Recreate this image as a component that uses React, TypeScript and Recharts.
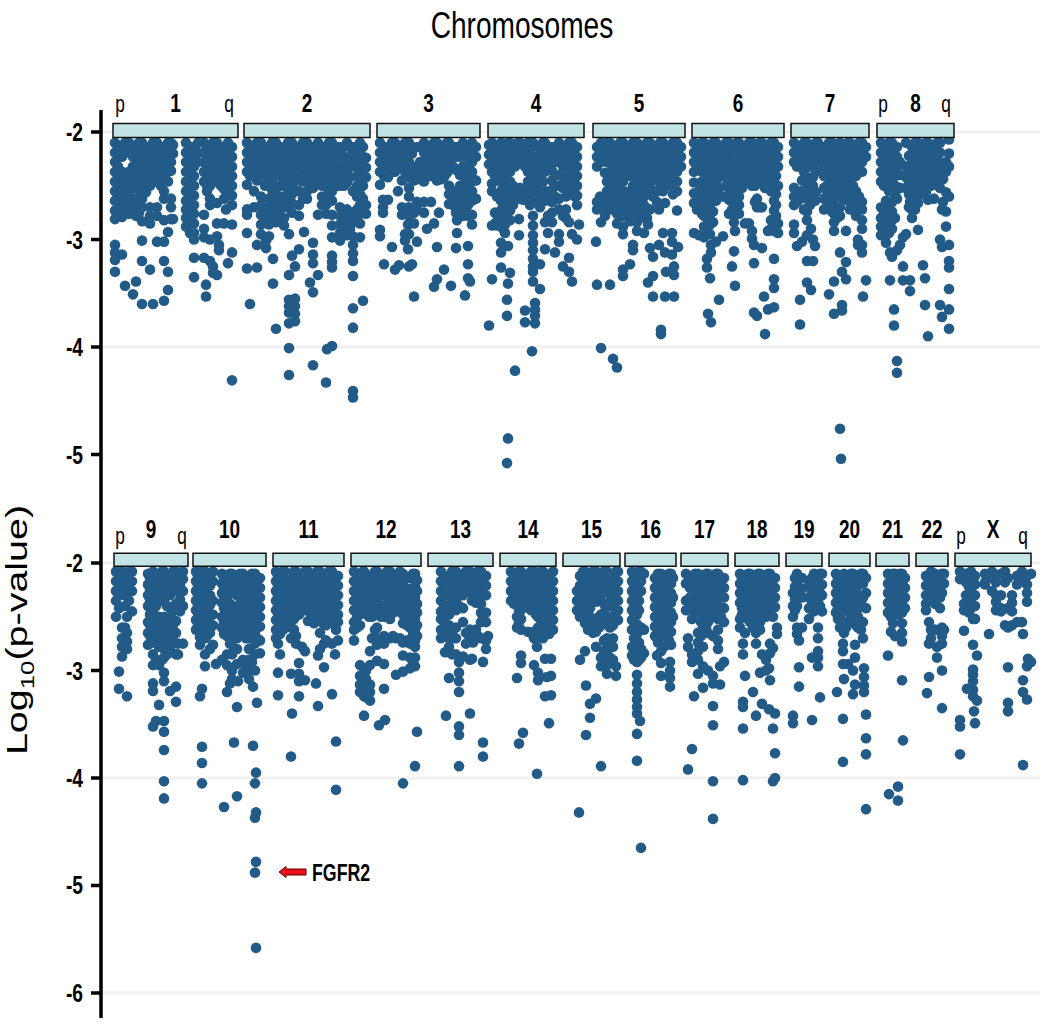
import { ScatterChart, Scatter, XAxis, YAxis, ReferenceArea, ReferenceLine, ReferenceDot } from 'recharts'

// every row below is one genome position followed by the -log10(p) values at that position
const chr1 = [
  [115, 2.1, 2.19, 2.28, 2.37, 2.46, 2.55, 2.64, 2.73, 2.81, 3.05, 3.12, 3.19, 3.3],
  [118, 2.14, 2.23, 2.32, 2.41, 2.5, 2.6, 2.7],
  [122, 2.14, 2.23, 2.37, 2.46, 2.55, 2.64, 2.73, 2.79, 3.14],
  [125, 2.1, 2.18, 2.42, 2.5, 2.6, 2.7, 3.43],
  [129, 2.1, 2.19, 2.37, 2.46, 2.58, 2.67, 2.76],
  [133, 2.14, 2.23, 2.32, 2.42, 2.52, 2.75, 3.51],
  [136, 2.14, 2.23, 2.32, 2.41, 2.5, 2.62, 2.7, 2.78, 3.39],
  [139, 2.1, 2.18, 2.27, 2.36, 2.45, 2.54, 2.75],
  [142, 2.1, 2.19, 2.28, 2.37, 2.46, 2.62, 2.7, 2.83, 3.01, 3.2, 3.6],
  [146, 2.14, 2.23, 2.32, 2.41, 2.5, 2.56],
  [150, 2.14, 2.23, 2.32, 2.41, 2.5, 2.7, 2.78, 2.85, 3.28],
  [153, 2.1, 2.19, 2.28, 2.37, 2.46, 3.6],
  [157, 2.1, 2.19, 2.28, 2.37, 2.46, 2.7, 2.78, 3.02],
  [161, 2.14, 2.23, 2.32, 2.41, 2.5],
  [164, 2.14, 2.23, 2.32, 2.41, 2.55, 2.62, 2.82, 3.02, 3.2, 3.57],
  [168, 2.1, 2.19, 2.28, 2.37, 2.46, 2.93, 3.3, 3.47],
  [171, 2.1, 2.19, 2.28, 2.36, 2.62, 2.7, 2.81],
  [173, 2.12, 2.2, 2.81],
  [186, 2.1, 2.19, 2.28, 2.37, 2.46, 2.55, 2.64, 2.72, 2.8, 2.88],
  [190, 2.14, 2.23, 2.32, 2.41, 2.5, 2.59, 2.68, 2.76, 2.85, 2.94],
  [194, 2.14, 2.23, 2.32, 2.41, 2.5, 2.59, 2.68, 2.76, 2.85, 2.94, 3.0, 3.17, 3.35],
  [198, 2.1, 2.19, 2.28],
  [204, 2.1, 2.19, 2.28, 2.37, 2.46, 2.77, 2.9, 2.98, 3.17],
  [206, 3.42, 3.53],
  [207, 2.14, 2.23, 2.32, 2.41, 2.5, 2.55],
  [210, 2.14, 2.23, 2.32, 2.41, 2.5, 2.62, 2.68, 3.0, 3.2],
  [213, 2.1, 2.19, 2.28, 2.37, 2.46, 3.25, 3.31],
  [217, 2.1, 2.19, 2.28, 2.37, 2.46, 2.66, 2.85, 2.97, 3.33],
  [219, 3.05, 3.1],
  [221, 2.14, 2.23, 2.32, 2.41, 2.5],
  [224, 2.14, 2.23, 2.32, 2.41, 2.53, 2.62, 2.85],
  [226, 2.72],
  [228, 2.1, 2.19, 2.28, 2.37, 2.46, 2.55, 3.22],
  [232, 2.14, 2.23, 2.32, 2.41, 2.5, 2.59, 2.68, 2.86, 3.12, 4.31],
]
const chr2 = [
  [247, 2.1, 2.19, 2.28, 2.37, 2.49, 2.77, 2.72, 2.94, 3.27],
  [250, 2.14, 2.23, 2.32, 2.41, 3.6],
  [254, 2.14, 2.23, 2.32, 2.41, 2.55, 2.7],
  [257, 2.1, 2.19, 2.28, 2.37, 2.45, 3.05, 3.26],
  [261, 2.1, 2.19, 2.28, 2.37, 2.6, 2.68, 2.77, 2.86, 2.95],
  [265, 2.14, 2.23, 2.32, 2.41, 2.5, 2.72, 2.82],
  [266, 3.08, 3.01],
  [269, 2.14, 2.23, 2.32, 2.41, 2.62, 2.7, 2.78, 2.86, 2.97],
  [272, 2.1, 2.19, 2.28, 2.37, 2.46, 2.54, 2.66, 2.75],
  [273, 3.18, 3.41],
  [276, 2.1, 2.19, 2.28, 2.37, 2.58, 2.66, 2.75, 2.84, 3.83],
  [280, 2.14, 2.23, 2.32, 2.41, 2.5, 2.6, 2.72, 2.82],
  [284, 2.14, 2.23, 2.32, 2.41, 2.5, 2.62, 2.7, 2.8, 2.87],
  [288, 2.1, 2.19, 2.28, 2.37, 2.46, 2.56, 2.7],
  [289, 2.95, 3.33, 3.56, 3.62, 3.68, 3.78, 4.01, 4.26],
  [292, 2.1, 2.19, 2.28, 2.37, 2.5, 2.58, 2.66, 2.75, 3.15],
  [295, 2.14, 2.23, 2.32, 2.41, 3.25, 3.55, 3.62, 3.69, 3.76],
  [299, 2.14, 2.23, 2.32, 2.45, 2.55, 2.68, 2.78, 3.09],
  [303, 2.1, 2.19, 2.28, 2.37, 2.46, 2.62],
  [304, 2.93],
  [307, 2.1, 2.19, 2.28, 2.37, 2.55, 2.62],
  [310, 2.14, 2.23, 2.32, 2.41, 2.5, 3.4],
  [313, 2.14, 2.23, 2.32, 2.45, 2.52, 3.03, 3.14, 3.22, 3.49, 4.17],
  [318, 2.1, 2.19, 2.28, 2.37, 2.46, 2.77, 3.33],
  [322, 2.14, 2.23, 2.32, 2.41, 2.5, 2.6, 2.68],
  [326, 2.14, 2.23, 2.32, 2.41, 2.5, 2.6, 2.68, 2.76, 4.33],
  [327, 4.02],
  [329, 2.1, 2.19, 2.28, 2.37, 2.46, 2.55, 2.64],
  [332, 2.1, 2.19, 2.28, 2.37, 2.46, 2.55, 2.64, 2.77, 2.87, 2.98, 3.15, 3.21, 3.26, 3.99],
  [336, 2.14, 2.23, 2.32, 2.41, 2.5],
  [340, 2.14, 2.23, 2.32, 2.41, 2.5, 2.7, 2.78, 2.86, 2.94, 3.01],
  [344, 2.14, 2.23, 2.32, 2.41, 2.5, 2.78, 2.88],
  [347, 2.1, 2.28, 2.37, 2.47, 2.72, 2.8, 2.88, 2.96],
  [350, 2.14, 2.23, 2.32, 2.42, 2.8, 2.9],
  [353, 2.14, 2.23, 2.32, 2.55, 2.75, 2.84, 2.97, 3.05, 3.13, 3.2, 3.34, 3.64, 3.82, 4.41, 4.47],
  [357, 2.14, 2.23, 2.32, 2.41, 2.5, 2.6, 2.72, 2.8],
  [360, 2.1, 2.19, 2.28, 2.4, 2.48, 2.58, 2.68, 2.76, 2.85, 2.98],
  [363, 2.14, 2.23, 2.32, 2.5, 2.62, 3.57],
  [366, 2.24, 2.33, 2.42, 2.68, 2.76],
]
const chr3 = [
  [380, 2.1, 2.19, 2.28, 2.37, 2.49, 2.91, 2.97],
  [383, 2.63, 2.7, 2.75],
  [384, 2.14, 2.23, 2.32, 2.41, 3.23],
  [388, 2.14, 2.23, 2.32, 2.42, 2.63],
  [392, 2.1, 2.19, 2.28, 2.37, 3.07],
  [395, 2.1, 2.19, 2.28, 2.37, 3.28],
  [398, 2.14, 2.23, 2.32, 2.55],
  [399, 3.24],
  [402, 2.14, 2.23, 2.32, 2.45, 2.7, 2.77],
  [405, 2.1, 2.19, 2.28, 2.37, 2.95, 3.01],
  [408, 2.14, 2.23, 2.32, 2.42, 3.09, 2.86],
  [409, 2.1, 2.28, 2.37, 2.52, 2.6, 2.7, 2.78, 2.95, 3.25],
  [412, 2.2, 2.32, 2.42, 3.23],
  [414, 2.33, 2.45, 2.75, 2.85, 3.53],
  [417, 2.14, 2.4, 2.65, 2.72, 3.02],
  [420, 2.28, 2.36, 2.44],
  [424, 2.1, 2.19, 2.3, 2.46, 2.65, 2.75],
  [427, 2.14, 2.23, 2.38, 2.9],
  [431, 2.14, 2.23, 2.32, 2.41, 2.65],
  [434, 2.1, 2.19, 2.28, 2.38, 2.85, 3.44],
  [437, 2.1, 2.19, 2.3, 2.45, 3.07, 3.37],
  [439, 2.75],
  [441, 2.14, 2.23, 2.36, 2.44],
  [444, 2.14, 2.23, 2.32, 2.42, 3.28],
  [447, 2.1, 2.19, 2.28, 2.38],
  [449, 2.1, 2.19, 2.28, 2.5, 2.58, 2.67],
  [451, 3.43],
  [453, 2.14, 2.23, 2.32, 2.6, 2.68],
  [456, 2.14, 2.23, 2.35, 2.55, 2.65, 2.75, 3.08],
  [457, 2.94, 2.82],
  [460, 2.14, 2.23, 2.4, 2.5, 2.6, 2.7],
  [463, 2.1, 2.19, 2.32, 2.41, 2.5, 2.58, 2.68, 2.78],
  [465, 3.52],
  [466, 2.14, 2.23, 2.36, 2.46, 2.55, 2.64, 2.74],
  [468, 2.14, 2.23, 2.32, 2.41, 2.5, 2.59, 2.68, 2.78, 3.06, 3.23, 3.36],
  [470, 3.39],
  [472, 2.1, 2.19, 2.28, 2.37, 2.46, 2.55, 2.64, 2.86, 2.77],
  [476, 2.14, 2.23, 2.45, 2.62],
]
const chr4 = [
  [489, 2.12, 2.21, 2.3, 3.8],
  [492, 2.1, 2.19, 2.28, 2.37, 2.48, 2.55, 2.87, 3.37],
  [495, 2.14, 2.23, 2.32, 2.41, 2.75, 2.85],
  [497, 2.14, 2.23, 2.32, 2.41, 2.6, 2.77, 2.87],
  [501, 2.1, 2.19, 2.28, 2.37, 2.46, 2.55, 2.64, 2.73, 2.82, 3.03, 3.12, 3.26],
  [503, 2.14, 2.23, 2.32, 2.41, 2.5, 2.6, 2.7, 2.8, 2.9],
  [505, 2.14, 2.23, 2.32, 2.41, 2.5, 2.59, 2.68, 2.77, 2.86, 2.94],
  [507, 3.56, 3.71, 5.08],
  [508, 2.1, 2.19, 2.28, 2.37, 2.46, 2.55, 2.64, 2.73, 3.06, 3.41, 4.85],
  [510, 2.1, 2.19, 2.28, 2.37, 2.46, 2.55, 2.64, 2.73, 2.82, 3.31],
  [513, 2.14, 2.23, 2.32, 2.5, 2.58, 2.68],
  [515, 2.14, 2.23, 2.32, 2.55, 2.63, 4.22],
  [518, 2.1, 2.19, 2.28, 2.55, 2.62],
  [519, 2.81, 2.96],
  [520, 2.1, 2.19, 2.28, 2.52, 2.6],
  [523, 2.14, 2.24, 2.55, 2.63],
  [525, 2.14, 2.23, 2.32, 2.58, 3.66, 3.77],
  [528, 2.1, 2.19, 2.28, 2.37, 2.46, 2.55, 2.64],
  [530, 2.1, 2.19, 2.28, 2.37, 2.52, 2.6, 2.68],
  [533, 2.1, 2.78, 2.87, 2.96, 3.03, 3.1, 3.18, 3.25, 3.3, 3.39],
  [535, 2.23, 2.32, 2.41, 2.5, 3.59, 3.65, 3.71, 3.78],
  [532, 4.04],
  [538, 2.14, 2.23, 2.4, 2.48, 2.56, 2.65],
  [540, 2.14, 2.23, 2.32, 2.55, 2.63, 2.7, 3.23, 3.46],
  [543, 2.1, 2.19, 2.28, 2.37, 2.46, 2.6],
  [545, 2.1, 2.19, 2.28, 2.37, 2.55, 2.64, 2.84, 3.09],
  [548, 2.14, 2.23, 2.32, 2.6, 2.78, 2.94],
  [552, 2.14, 2.36, 2.45, 2.54, 2.65, 2.75, 2.84],
  [555, 2.2, 2.28, 2.5, 2.6, 3.12],
  [559, 2.1, 2.19, 2.28, 2.4, 2.5, 2.62, 2.72, 2.95, 3.02],
  [563, 2.14, 2.23, 2.32, 2.42, 2.52, 2.78, 3.25],
  [566, 2.14, 2.23, 2.32, 2.41, 2.5, 2.6, 2.72, 2.8],
  [569, 2.1, 2.19, 2.28, 2.37, 2.46, 2.84, 3.17, 3.3],
  [572, 2.1, 2.19, 2.28, 2.37, 2.46, 2.55, 2.95, 3.39],
  [575, 2.14, 2.23, 2.32, 2.41, 2.5, 2.6],
  [577, 2.14, 2.23, 2.32, 2.41, 2.5, 2.59, 2.68, 3.0],
  [579, 2.86],
]
const chr5 = [
  [596, 3.02],
  [597, 2.14, 2.23, 2.32, 2.65, 2.72, 3.42],
  [600, 2.19, 2.6, 2.68],
  [601, 2.1, 2.28, 2.62, 2.7, 2.84, 4.01],
  [605, 2.14, 2.2, 2.38, 2.62, 2.7, 2.78],
  [607, 2.1, 2.28, 2.46, 2.55, 2.68],
  [610, 2.1, 2.19, 2.28, 2.37, 2.46, 2.55, 2.64, 2.72, 3.42],
  [613, 2.14, 2.23, 2.32, 2.41, 2.5, 2.6, 2.7, 4.11],
  [617, 2.14, 2.23, 2.32, 2.41, 2.5, 2.59, 2.68, 2.76, 2.85, 4.19],
  [620, 2.1, 2.19, 2.28, 2.37, 2.46, 2.55, 2.65, 2.75],
  [623, 2.1, 2.19, 2.28, 2.37, 2.46, 2.55, 2.65, 2.78, 2.88, 2.95, 3.28, 3.34],
  [626, 2.14, 2.23, 2.32, 2.6, 2.7],
  [630, 2.14, 2.23, 2.32, 2.41, 2.55, 2.65, 2.75, 2.83, 3.23],
  [633, 2.1, 2.19, 2.28, 2.37, 2.5, 2.6, 2.7, 3.05, 3.1],
  [637, 2.1, 2.19, 2.28, 2.37, 2.46, 2.55, 2.65, 2.76, 2.84, 2.92],
  [640, 2.14, 2.23, 2.32, 2.41, 2.5, 2.6, 2.7, 2.8],
  [644, 2.14, 2.23, 2.32, 2.42, 2.5, 2.6, 2.68, 2.76, 2.94],
  [647, 2.1, 2.19, 2.28, 2.37, 2.46, 2.55, 2.8],
  [648, 3.4, 2.86],
  [650, 2.1, 2.19, 2.28, 2.37, 2.52, 2.72, 3.08],
  [653, 2.14, 2.23, 2.32, 2.45, 2.6, 3.16, 3.34, 3.53],
  [657, 2.14, 2.23, 2.32, 2.42, 2.55, 2.65],
  [659, 3.05, 2.72],
  [660, 2.1, 2.19, 2.28, 2.38, 2.47],
  [661, 3.84, 3.88],
  [663, 2.1, 2.19, 2.28, 2.37, 2.46, 2.55, 2.94],
  [665, 3.12, 3.53, 2.66],
  [666, 2.14, 2.23, 2.32, 2.42, 3.3],
  [670, 2.14, 2.23, 2.32, 2.41, 2.5],
  [672, 2.94, 3.14, 3.02],
  [673, 2.1, 2.19, 2.28, 2.37, 2.46, 2.58],
  [674, 3.33, 3.53, 3.25],
  [677, 2.1, 2.19, 2.28, 2.37, 2.46, 2.55, 2.73],
  [678, 3.07],
  [681, 2.14, 2.23, 2.32],
]
const chr6 = [
  [694, 2.1, 2.19, 2.28, 2.37, 2.47, 2.57, 2.66, 2.94],
  [697, 2.14, 2.23, 2.32, 2.6, 2.72],
  [699, 2.14, 2.23, 2.32, 2.55, 2.7, 2.96],
  [702, 2.1, 2.19, 2.28, 2.37, 2.46, 2.56, 2.66, 2.76],
  [704, 2.1, 2.19, 2.28, 2.37, 2.5, 2.6, 2.7, 2.78, 2.88, 2.98],
  [707, 2.14, 2.23, 2.32, 2.41, 2.5, 2.6, 2.7, 2.8, 2.9, 3.26, 3.18],
  [708, 3.69],
  [710, 2.14, 2.23, 2.32, 2.41, 2.5, 2.59, 2.68, 2.77, 2.86, 2.95, 3.36],
  [711, 3.05, 3.12, 3.77],
  [713, 2.1, 2.19, 2.28, 2.37, 2.46, 2.55, 2.64, 2.74, 2.84],
  [716, 2.1, 2.19, 2.28, 2.37, 2.46, 2.55, 2.64, 3.02],
  [719, 2.14, 2.23, 2.32, 2.42, 2.52, 3.56],
  [723, 2.14, 2.23, 2.32, 2.41, 2.6, 2.97],
  [726, 2.1, 2.28, 2.37, 2.5, 2.6],
  [729, 2.1, 2.19, 2.28, 2.43, 2.52, 2.63, 2.76],
  [732, 2.2, 2.32, 2.42, 2.5, 2.72, 3.25],
  [734, 2.14, 2.4, 2.6, 2.68, 2.76, 2.84, 3.11],
  [735, 2.92, 3.43],
  [737, 2.1, 2.28, 2.37, 2.46, 2.55, 2.64],
  [739, 2.1, 2.19, 2.3, 2.42, 2.5, 2.6, 2.68, 2.76],
  [742, 2.14, 2.23, 2.36, 2.45, 2.52],
  [745, 2.14, 2.23, 2.32, 2.41, 2.85],
  [749, 2.1, 2.19, 2.28, 2.37, 2.46, 2.85],
  [752, 2.1, 2.19, 2.28, 2.37, 2.46, 2.5, 2.92, 2.99],
  [754, 3.05, 3.22, 3.68],
  [755, 2.14, 2.23, 2.32, 2.41, 2.5, 2.65],
  [757, 2.14, 2.23, 2.32, 2.41, 2.62, 2.7, 3.71],
  [760, 2.1, 2.19, 2.28, 2.37, 2.46, 2.7],
  [762, 2.1, 2.19, 2.28, 2.37, 2.46, 2.7, 3.08],
  [764, 3.53],
  [765, 2.14, 2.23, 2.32, 2.41, 2.52, 3.88],
  [768, 2.14, 2.23, 2.32, 2.41, 2.5, 2.92, 3.65],
  [771, 2.1, 2.19, 2.28, 2.37, 2.46, 2.55, 2.82, 2.9],
  [774, 2.1, 2.19, 2.28, 2.37, 2.46, 2.55, 2.64, 2.73, 2.82, 2.92, 3.18, 3.37, 3.45, 3.63],
  [776, 2.14, 2.23, 2.32, 2.41, 2.5, 2.58, 2.68, 2.78, 2.88],
  [778, 2.14, 2.23, 2.32, 2.5, 2.85, 2.94],
]
const chr7 = [
  [794, 2.1, 2.19, 2.28, 2.52, 2.6, 2.68, 2.86, 2.94],
  [797, 2.14, 2.23, 2.32, 2.55, 2.65, 3.06],
  [800, 2.14, 2.23, 2.32, 2.62, 3.56, 3.79],
  [802, 2.45, 2.55, 3.02],
  [804, 2.1, 2.19, 2.28, 2.37, 2.58, 2.72],
  [807, 2.1, 2.19, 2.28, 2.42, 2.5, 2.62, 2.74, 2.82, 2.96, 3.2, 3.4],
  [810, 2.14, 2.23, 2.32, 2.55, 2.68],
  [811, 2.48, 2.58, 2.9, 3.47],
  [813, 2.14, 2.23, 2.32, 2.42, 2.5, 3.2, 3.0],
  [815, 3.06, 2.64],
  [816, 2.1, 2.19, 2.28, 2.37, 2.56],
  [818, 2.1, 2.19, 2.28],
  [827, 2.14, 2.23, 2.32, 2.41, 2.5, 2.6, 2.7],
  [824, 2.14, 2.23, 2.32, 2.41, 2.52, 2.62, 2.72],
  [829, 2.1, 2.19, 2.28, 2.4, 2.5, 2.58, 2.68, 3.51],
  [832, 2.1, 2.19, 2.28, 2.37, 2.46, 2.55, 2.64, 2.74],
  [834, 2.14, 2.23, 2.32, 2.41, 2.5, 2.59, 2.68, 2.76, 2.84, 2.92, 3.39, 3.69],
  [837, 2.14, 2.23, 2.32, 2.41, 2.5, 2.6, 2.8],
  [840, 2.1, 2.19, 2.28, 2.37, 2.46, 2.55, 2.7, 2.78, 3.12, 4.76],
  [842, 3.3, 3.61, 3.66],
  [841, 5.04],
  [843, 2.14, 2.23, 2.32, 2.5, 2.62],
  [846, 2.14, 2.23, 2.43, 2.5, 2.62, 2.92, 3.21, 3.37],
  [848, 2.1, 2.19, 2.28, 2.37, 2.55, 2.64],
  [850, 2.1, 2.19, 2.28, 2.37, 2.46, 2.55, 2.72],
  [853, 2.14, 2.23, 2.32, 2.41, 2.5, 2.62, 2.7],
  [856, 2.14, 2.23, 2.32, 2.41, 2.55, 2.62, 2.7, 2.78],
  [858, 3.0, 3.05],
  [859, 2.1, 2.19, 2.28, 2.37, 2.6, 2.7],
  [862, 2.1, 2.19, 2.28, 2.37, 2.65, 2.72, 2.82, 2.9, 3.05, 3.12],
  [863, 3.53],
  [866, 2.14, 2.23, 3.38],
]
const chr8 = [
  [881, 2.1, 2.19, 2.28, 2.37, 2.46, 2.7, 2.8, 2.88, 2.96],
  [884, 2.14, 2.23, 2.32, 2.41, 2.5, 2.75, 2.85, 2.92],
  [886, 2.14, 2.23, 2.32, 2.41, 2.5, 2.64, 2.72, 2.8, 2.88, 2.96, 3.03],
  [889, 2.1, 2.19, 2.28, 2.37, 2.46, 2.55, 2.7, 2.78, 2.86, 2.94],
  [890, 3.12, 3.38],
  [892, 2.1, 2.19, 2.28, 2.37, 2.46, 2.55, 2.65, 2.74, 2.82, 2.9, 3.16],
  [894, 3.65, 3.8],
  [895, 2.14, 2.23, 2.32, 2.41, 2.5, 2.58, 2.8],
  [897, 2.14, 2.23, 2.32, 2.62, 3.1, 4.13, 4.24],
  [900, 2.28, 2.4, 2.52, 3.05],
  [903, 2.98, 3.25, 3.38],
  [906, 2.1, 2.32, 2.42, 2.52, 2.95],
  [909, 2.22, 2.38, 2.48, 2.58, 2.7],
  [910, 2.65, 3.38, 3.48],
  [912, 2.14, 2.25, 2.36, 2.46, 2.55, 2.65, 2.72, 2.8],
  [915, 2.1, 2.19, 2.32, 2.42, 2.52, 2.62, 2.72],
  [918, 2.1, 2.19, 2.3, 2.4, 2.5, 2.58, 2.66, 2.91],
  [921, 2.14, 2.23, 2.32, 2.41, 2.5, 2.58],
  [923, 2.14, 2.23, 2.32, 2.41, 2.5, 3.24],
  [925, 3.36, 3.61],
  [926, 2.1, 2.19, 2.28, 2.37, 2.46, 2.56],
  [928, 2.1, 2.19, 2.28, 2.37, 2.46, 2.63, 3.9],
  [931, 2.14, 2.23, 2.32, 2.41, 2.5],
  [934, 2.14, 2.23, 2.32, 2.41, 2.62],
  [937, 2.1, 2.19, 2.28, 2.37, 2.46],
  [940, 2.1, 2.19, 2.28, 2.37, 2.52, 3.0, 3.61],
  [942, 2.72, 3.07, 3.72],
  [943, 2.32, 2.44, 2.65],
  [946, 2.28, 2.37, 2.56, 2.74, 2.88],
  [949, 2.07, 2.2, 2.32, 2.6, 3.05, 3.2, 3.26, 3.46, 3.65, 3.83],
]
const topChromosomes = [chr1, chr2, chr3, chr4, chr5, chr6, chr7, chr8]

const chr9 = [
  [116, 2.08, 2.17, 2.26, 2.35, 2.5],
  [119, 2.12, 2.21, 2.3, 2.42, 3.01, 3.17],
  [122, 2.08, 2.17, 2.26, 2.6, 2.7, 2.78, 2.87],
  [125, 2.12, 2.21, 2.3, 2.4, 2.6],
  [127, 2.12, 2.21, 2.3, 2.5, 2.65, 2.73, 2.8, 3.24],
  [129, 2.08, 2.17, 2.26, 2.35],
  [132, 2.08, 2.17, 2.26, 2.45],
  [148, 2.1, 2.2, 2.3, 2.4, 2.55, 2.65, 2.76],
  [150, 2.14, 2.24, 2.34, 2.48, 2.58, 2.68],
  [153, 2.08, 2.17, 2.26, 2.35, 2.44, 2.55, 2.65, 2.74, 2.85, 2.95, 3.12, 3.19, 3.52],
  [156, 2.12, 2.21, 2.3, 2.4, 2.6, 2.7, 2.9, 3.47],
  [159, 2.12, 2.21, 2.3, 2.5, 2.6, 2.7, 2.78, 2.95, 3.32],
  [162, 2.08, 2.17, 2.26, 2.35, 2.55, 2.65, 2.75, 2.9],
  [164, 2.08, 2.17, 2.26, 2.35, 2.5, 2.6, 2.72, 2.8, 2.88, 3.02, 3.1, 3.47, 3.57, 3.74, 4.03, 4.19],
  [167, 2.12, 2.21, 2.3, 2.4, 2.55, 2.65, 2.76, 2.85],
  [170, 2.12, 2.21, 2.3, 2.42, 2.52, 2.62, 2.72, 2.8, 3.19],
  [173, 2.08, 2.17, 2.26, 2.45, 2.58, 2.68],
  [176, 2.08, 2.17, 2.26, 2.38, 2.54, 2.65, 2.85, 3.15, 3.29],
  [178, 2.75, 2.85],
  [180, 2.12, 2.21, 2.34, 2.45],
  [183, 2.08, 2.15, 2.26, 2.4, 2.75],
]
const chr10 = [
  [196, 2.08, 2.17, 2.26, 2.35, 2.44, 2.53, 2.62],
  [198, 2.12, 2.21, 2.3, 2.4, 2.5, 2.58],
  [200, 2.12, 2.21, 2.3, 2.4, 2.5, 2.6, 2.69, 2.76, 3.24],
  [202, 2.08, 2.17, 2.26, 2.35, 2.44, 2.55, 3.17, 3.71, 3.86, 4.05],
  [205, 2.08, 2.17, 2.26, 2.35, 2.44, 2.53, 2.62, 2.7, 2.85, 2.96],
  [207, 2.12, 2.21, 2.3, 2.4, 2.5, 2.6, 2.68],
  [210, 2.12, 2.21, 2.3, 2.39, 2.48, 2.57, 2.65, 2.8],
  [213, 2.08, 2.17, 2.35, 2.48, 2.58, 2.76],
  [216, 2.94],
  [222, 2.1, 2.19, 2.28, 2.37, 2.5, 2.6, 2.9],
  [224, 2.14, 2.23, 2.32, 2.42, 2.55, 2.66, 4.27],
  [227, 2.14, 2.23, 2.32, 2.48, 2.58, 2.68, 2.85, 2.95, 3.2],
  [230, 2.1, 2.19, 2.28, 2.38, 2.55, 2.65, 2.75, 3.12],
  [232, 2.1, 2.19, 2.28, 2.42, 2.52, 2.62, 2.72, 2.85, 3.0, 3.08],
  [234, 2.14, 2.23, 2.5, 2.6, 2.7, 2.8, 3.67],
  [237, 2.14, 2.3, 2.4, 2.5, 2.6, 2.7, 2.8, 2.94, 3.34, 4.17],
  [238, 3.1],
  [240, 2.1, 2.19, 2.28, 2.38, 2.48, 2.58, 2.68],
  [243, 2.1, 2.19, 2.3, 2.44, 2.55, 2.65, 2.9, 3.02],
  [246, 2.14, 2.23, 2.32, 2.42, 2.5, 2.6, 2.7, 2.96],
  [249, 2.14, 2.23, 2.32, 2.4, 2.5, 2.6, 2.7, 2.8, 2.9, 3.0, 3.08],
  [252, 2.1, 2.19, 2.28, 2.37, 2.46, 2.56, 2.65, 2.92],
  [253, 3.15, 3.7],
  [255, 2.1, 2.19, 2.28, 2.37, 2.46, 2.55, 2.64, 2.75, 2.85, 3.0, 4.05, 4.37, 4.88],
  [256, 3.95, 4.32, 4.78, 5.58],
  [257, 2.14, 2.23, 2.32, 2.41, 2.5, 2.6, 2.7, 3.3],
  [260, 2.14, 2.23, 2.32, 2.41, 2.5, 2.59, 2.72, 2.84],
]
const chr11 = [
  [276, 2.08, 2.17, 2.26, 2.35, 2.44, 2.53, 2.62, 2.7],
  [278, 2.12, 2.21, 2.3, 2.4, 2.5, 2.75, 3.02, 3.23],
  [280, 2.12, 2.21, 2.3, 2.39, 2.48, 2.57, 2.66, 2.85],
  [283, 2.08, 2.17, 2.26, 2.35, 2.44, 2.53, 2.62],
  [285, 2.08, 2.17, 2.26, 2.35, 2.44, 2.53, 2.6],
  [288, 2.12, 2.21, 2.3, 2.39, 2.48, 2.58],
  [291, 2.12, 2.21, 2.3, 2.39, 2.48, 2.6, 2.7, 3.03, 3.8],
  [292, 3.4],
  [294, 2.08, 2.17, 2.26, 2.35, 2.44, 2.52, 2.62],
  [296, 2.08, 2.17, 2.26, 2.35, 2.44, 2.68, 2.75],
  [299, 2.12, 2.21, 2.3, 2.39, 2.48, 2.93, 3.03, 3.1, 3.24],
  [302, 2.12, 2.21, 2.3, 2.39, 2.78],
  [305, 2.08, 2.17, 2.26, 2.35, 2.44, 2.82, 3.09],
  [308, 2.08, 2.17, 2.26, 2.35, 2.44, 2.54],
  [311, 2.12, 2.21, 2.3, 2.39, 2.48],
  [314, 2.12, 2.21, 2.3, 2.39, 2.48, 2.56],
  [316, 3.12],
  [317, 2.08, 2.17, 2.26, 2.35, 2.44, 2.52],
  [318, 2.86, 3.33],
  [320, 2.08, 2.17, 2.26, 2.35, 2.44, 2.52, 2.65, 2.8],
  [323, 2.12, 2.21, 2.3, 2.39, 2.48, 2.56],
  [324, 2.97, 2.75],
  [326, 2.12, 2.21, 2.3, 2.39, 2.48, 2.58, 2.72],
  [329, 2.08, 2.17, 2.26, 2.35, 2.44, 2.53],
  [332, 2.08, 2.17, 2.26, 2.35, 2.44, 2.53, 2.75, 3.22],
  [335, 2.12, 2.21, 2.3, 2.39, 2.48, 2.58, 2.85],
  [336, 2.62, 3.66, 4.11],
  [338, 2.12, 2.21, 2.3, 2.39, 2.48, 2.55, 2.72],
]
const chr12 = [
  [354, 2.08, 2.17, 2.26, 2.35, 2.44, 2.55, 2.62, 2.72],
  [357, 2.12, 2.21, 2.3, 2.4, 2.5, 2.6],
  [360, 2.12, 2.21, 2.38, 2.48, 2.58, 2.95, 3.05, 3.13, 3.2],
  [363, 2.08, 2.17, 2.26, 2.34, 2.46],
  [364, 2.08, 3.02, 3.1, 3.18, 3.24, 3.42],
  [366, 2.17, 2.26, 2.38, 2.46, 3.0, 3.08, 3.16, 3.25],
  [369, 2.12, 2.21, 2.3, 2.42, 2.5],
  [370, 2.82, 2.95, 3.13, 3.2, 3.28],
  [372, 2.12, 2.21, 2.32, 2.42, 2.5, 2.7],
  [375, 2.08, 2.17, 2.26, 2.36, 2.48, 2.62],
  [377, 2.08, 2.17, 2.36, 2.45, 2.6, 2.7, 2.76, 2.91],
  [379, 3.51],
  [381, 2.12, 2.21, 2.3, 2.4, 2.5, 2.72],
  [384, 2.12, 2.21, 2.3, 2.42, 2.5, 2.68, 2.75, 2.94, 3.17],
  [385, 3.46],
  [387, 2.08, 2.17, 2.26, 2.38, 2.5],
  [390, 2.08, 2.17, 2.3, 2.42, 2.52, 2.7],
  [393, 2.12, 2.21, 2.3, 2.38, 2.46, 2.68],
  [396, 2.14, 2.23, 2.38, 2.45, 2.7, 3.04],
  [400, 2.08, 2.17, 2.26, 2.36, 2.44, 2.7],
  [403, 2.1, 2.2, 2.3, 2.4, 2.48, 2.56, 2.74, 2.86, 3.01, 4.05],
  [407, 2.14, 2.3, 2.38, 2.46, 2.58, 2.72],
  [410, 2.14, 2.24, 2.32, 2.42, 2.5, 2.6, 2.75, 2.88, 2.98],
  [413, 2.1, 2.28, 2.38, 2.48, 2.56, 2.66, 2.92],
  [415, 2.1, 2.22, 2.32, 2.42, 2.52, 2.62, 2.72, 2.78, 2.88, 2.96, 3.89],
  [417, 2.16, 2.26, 2.38, 2.46, 2.58, 2.68, 3.57],
]
const chr13 = [
  [441, 2.08, 2.17, 2.26, 2.35, 2.45, 2.52, 2.62, 2.7],
  [444, 2.12, 2.21, 2.3, 2.4, 2.5, 2.6],
  [445, 2.83],
  [446, 3.42, 2.65],
  [449, 2.12, 2.21, 2.3, 2.39, 2.48, 2.58, 2.7, 3.07, 2.78],
  [452, 2.08, 2.17, 2.26, 2.35, 2.44, 2.85],
  [453, 2.62, 2.7],
  [456, 2.08, 2.17, 2.26, 2.35, 2.44, 2.6, 2.7, 2.85],
  [459, 2.12, 2.21, 2.3, 2.4, 2.92, 3.02, 3.1, 3.2, 3.52, 3.6, 3.89],
  [463, 2.12, 2.21, 2.3, 2.42, 2.55, 2.87],
  [466, 2.08, 2.17, 2.26, 2.65, 2.75],
  [470, 2.08, 2.17, 2.26, 2.62, 2.7, 2.9, 3.4],
  [472, 2.35, 2.89],
  [473, 2.12, 2.21, 2.3, 2.66, 2.74],
  [476, 2.12, 2.21, 2.3, 2.37, 2.62, 2.7],
  [478, 2.08, 2.17, 2.26, 2.35, 2.68],
  [481, 2.08, 2.17, 2.26, 2.38, 2.46, 2.55, 2.7],
  [483, 2.12, 2.21, 2.3, 2.5, 2.92, 3.67, 3.8],
  [486, 2.12, 2.21, 2.3, 2.46, 2.55, 2.72, 2.8],
  [488, 2.68],
]
const chr14 = [
  [511, 2.08, 2.17, 2.26, 2.35],
  [514, 2.12, 2.21, 2.3, 2.38],
  [517, 2.12, 2.21, 2.3, 2.38, 2.5, 2.6, 3.07],
  [519, 2.08, 2.17, 2.26, 2.35, 2.44, 2.55, 3.68],
  [521, 2.08, 2.17, 2.26, 2.35, 2.44, 2.52, 2.62, 2.86, 2.93],
  [523, 3.58],
  [525, 2.12, 2.21, 2.3, 2.4],
  [528, 2.12, 2.21, 2.3, 2.39, 2.64],
  [531, 2.08, 2.17, 2.26, 2.35, 2.44, 2.65],
  [534, 2.08, 2.17, 2.26, 2.35, 2.44, 2.64, 2.7, 2.95],
  [536, 2.12, 2.21, 2.3, 2.39, 2.48, 2.7],
  [537, 2.78, 3.96],
  [538, 2.12, 2.3, 2.5, 2.6, 3.02, 3.09],
  [541, 2.08, 2.17, 2.26, 2.35, 2.44, 2.53, 2.62],
  [543, 2.08, 2.17, 2.26, 2.35, 2.44, 2.53, 2.62, 2.7],
  [545, 2.89, 3.24],
  [546, 2.12, 2.21, 2.3, 2.39, 2.48, 2.57, 2.66],
  [547, 3.06],
  [549, 2.12, 2.21, 2.3, 2.39, 2.48, 2.57, 2.66, 3.49],
  [551, 2.89, 3.23, 3.05],
  [553, 2.08, 2.17, 2.26, 2.35, 2.44, 2.53, 2.62],
]
const chr15 = [
  [577, 2.26, 2.35, 2.44],
  [579, 4.32],
  [580, 2.12, 2.21, 2.3, 2.4, 2.5, 2.9],
  [583, 2.08, 2.17, 2.26, 2.35, 2.46],
  [585, 2.08, 2.17, 2.26, 2.35, 2.44, 2.56, 2.82],
  [586, 3.14, 3.6],
  [588, 2.12, 2.21, 2.3, 2.4, 2.5, 2.62],
  [590, 2.12, 2.21, 2.3, 2.42, 2.5, 2.6, 3.31, 3.44],
  [593, 2.08, 2.17, 2.26, 2.36, 2.55, 2.65],
  [596, 2.08, 2.17, 2.26, 2.36, 2.55, 2.64, 2.78, 3.26],
  [599, 2.12, 2.21, 2.3, 2.5, 2.6],
  [601, 2.12, 2.21, 2.3, 2.48, 2.58, 2.88, 2.96, 3.89],
  [604, 2.08, 2.17, 2.26, 2.38, 2.46, 2.56, 2.72, 2.82],
  [607, 2.08, 2.17, 2.26, 2.38, 2.5, 2.7, 2.78, 2.84, 2.95, 3.03],
  [610, 2.12, 2.21, 2.3, 2.4, 2.5, 2.6, 2.74, 2.88],
  [613, 2.12, 2.21, 2.3, 2.4, 2.5, 2.58, 2.7, 2.78, 2.9],
  [616, 2.08, 2.17, 2.26, 2.35, 2.46, 3.05, 2.96],
  [618, 2.08, 2.17, 2.26, 2.35, 2.44, 2.53],
]
const chr16 = [
  [632, 2.08, 2.17, 2.26, 2.35, 2.44, 2.53, 2.62, 2.78, 2.86],
  [634, 2.12, 2.21, 2.3, 2.4, 2.5, 2.6, 2.7, 2.82, 2.9],
  [637, 2.12, 2.21, 2.3, 2.39, 2.48, 2.57, 2.66, 2.75, 2.84, 2.92, 3.04, 3.12, 3.2, 3.27, 3.34, 3.4, 3.59, 3.84],
  [639, 2.08, 2.17, 2.26, 2.35, 2.44, 2.6, 2.74, 2.84, 2.9],
  [640, 3.47],
  [641, 2.08, 2.17, 2.26, 2.6, 2.8, 2.88, 4.65],
  [644, 2.1, 2.62, 2.84],
  [655, 2.14, 2.23, 2.32, 2.41, 2.5, 2.59, 2.68],
  [657, 2.86, 2.7],
  [658, 2.1, 2.19, 2.28, 2.37, 2.46, 2.55, 2.64, 2.74],
  [661, 2.1, 2.19, 2.28, 2.37, 2.46, 2.55, 2.64, 2.82, 2.93, 3.05],
  [664, 2.14, 2.23, 2.32, 2.41, 2.5, 2.59, 2.68, 2.78],
  [667, 2.14, 2.23, 2.32, 2.41, 2.5, 2.59, 2.68],
  [669, 2.1, 2.19, 2.28, 2.37, 2.46, 2.55, 2.64, 2.72],
  [670, 2.92, 3.0, 3.07, 3.15],
  [671, 2.1, 2.19, 2.28, 2.37, 2.46, 2.55, 2.64, 2.76],
  [673, 2.14, 2.32, 2.5],
]
const chr17 = [
  [686, 2.1, 2.19, 2.35, 2.44],
  [688, 2.7, 2.78, 3.92],
  [690, 2.14, 2.23, 2.32, 2.4],
  [692, 2.14, 2.23, 2.32, 2.42, 2.52, 2.85, 2.92, 3.73],
  [694, 3.24],
  [695, 2.1, 2.19, 2.28, 2.37, 2.46],
  [698, 2.1, 2.19, 2.28, 2.37, 2.46, 2.65, 2.74, 2.82, 2.9, 3.03],
  [701, 2.14, 2.23, 2.32, 2.41, 2.55, 2.68],
  [703, 2.14, 2.23, 2.32, 2.5, 2.6, 2.78, 2.96, 3.16],
  [706, 2.1, 2.19, 2.28, 2.42, 2.5, 2.6],
  [708, 2.1, 2.19, 2.28, 2.38, 2.55, 2.65, 3.0],
  [711, 2.14, 2.23, 2.32, 2.42],
  [713, 2.14, 2.23, 2.32, 2.5, 2.68, 3.05, 3.12, 3.33, 3.51, 4.03, 4.38],
  [716, 2.1, 2.19, 2.28, 2.36, 2.5],
  [718, 2.1, 2.19, 2.28, 2.42, 2.52, 2.62, 2.72, 2.8],
  [720, 3.13, 2.96],
  [721, 2.14, 2.23, 2.32, 2.42, 2.5],
  [724, 2.14, 2.23, 2.32, 2.42, 2.55, 2.92],
]
const chr18 = [
  [740, 2.1, 2.19, 2.28, 2.37, 2.52, 2.6],
  [742, 2.14, 2.23, 2.32, 2.42, 2.48],
  [743, 2.75, 2.85, 3.29, 3.34, 3.54, 4.02],
  [745, 2.14, 2.23, 2.32, 2.42, 2.65, 3.05],
  [748, 2.1, 2.19, 2.28, 2.37, 2.46, 2.52],
  [750, 2.1, 2.19, 2.28, 2.37, 2.46, 2.55],
  [753, 2.14, 2.23, 2.32, 2.41, 2.5, 2.6, 3.2],
  [756, 2.14, 2.23, 2.32, 2.41, 2.5, 2.6, 2.65, 2.75, 3.42],
  [758, 2.1, 2.19, 2.28, 2.37, 2.46, 2.55, 2.62],
  [760, 2.1, 2.19, 2.28, 2.37, 2.46, 2.55, 2.62, 3.02],
  [762, 3.31, 2.85],
  [763, 2.14, 2.23, 2.32, 2.41, 2.5],
  [766, 2.14, 2.23, 2.32, 2.41, 2.5, 3.0, 2.9],
  [768, 2.1, 2.19, 2.28, 2.37, 2.46],
  [769, 2.98, 3.36],
  [770, 2.1, 2.19, 2.28, 2.37, 2.46, 2.75, 2.84, 3.09],
  [773, 2.14, 2.23, 2.32, 2.41, 2.5, 2.79, 3.54, 4.03],
  [775, 2.14, 2.23, 2.32, 2.41, 3.4, 3.77, 4.0],
  [777, 2.6, 2.66],
]
const chr19 = [
  [793, 2.28, 2.4, 2.5, 3.42, 3.49],
  [795, 2.14, 2.22, 2.34, 2.44],
  [797, 2.1, 2.2, 2.3, 2.4, 2.6, 2.66],
  [799, 2.97, 3.15, 2.72],
  [802, 2.14, 2.24, 2.32, 2.6],
  [809, 2.2, 2.32, 2.42, 2.52],
  [812, 2.14, 2.26, 2.36, 2.88, 3.46],
  [814, 2.1, 2.18, 2.3, 2.4, 2.45],
  [816, 2.2, 2.28, 2.4],
  [818, 2.14, 2.24, 2.35, 2.6, 2.7, 2.82, 2.96, 2.88],
  [820, 2.1, 2.28, 2.4, 3.25],
  [822, 2.1, 2.2, 2.3, 2.45],
]
const chr20 = [
  [836, 2.1, 2.19, 2.28, 2.37, 2.46],
  [837, 3.2],
  [838, 2.14, 2.23, 2.32, 2.42, 2.52],
  [840, 2.14, 2.23, 2.32, 2.41, 2.5, 2.6],
  [843, 2.2, 2.3, 2.4, 2.82, 2.75, 2.94, 3.45, 3.85],
  [844, 2.1, 2.19, 2.28, 2.37, 3.08, 2.55, 2.65],
  [846, 2.14, 2.24, 2.42, 2.6],
  [848, 2.14, 2.32, 2.45, 2.94],
  [851, 2.1, 2.19, 2.28, 2.38, 2.5],
  [853, 2.1, 2.3, 2.4, 2.55, 3.0, 3.22],
  [855, 2.76, 2.88, 3.13],
  [856, 2.14, 2.25, 2.36, 2.46, 2.58],
  [858, 2.14, 2.2, 2.32, 2.42, 2.5, 2.6],
  [861, 2.1, 2.19, 2.36, 2.62],
  [863, 2.1, 2.19, 2.32, 2.7, 2.55],
  [864, 2.98, 3.06, 3.14, 3.2],
  [866, 2.14, 2.28, 2.42, 3.41, 3.63, 3.78, 4.29],
]
const chr21 = [
  [888, 2.1, 2.19, 2.28, 2.37, 2.46, 2.86],
  [891, 2.14, 2.23, 2.32, 2.41, 2.5, 2.64],
  [893, 2.1, 2.19, 2.28, 2.37, 2.46, 2.56],
  [895, 2.1, 2.19, 2.28, 2.37, 2.46, 2.68],
  [898, 2.14, 2.23, 2.32, 2.41, 2.48, 4.08, 4.21],
  [889, 4.15],
  [900, 2.1, 2.19, 2.28, 2.37, 2.46],
  [902, 2.1, 2.19, 2.28, 2.37, 2.46, 2.56, 2.65, 2.73, 3.09],
  [903, 3.65],
  [905, 2.14, 2.23, 2.32, 2.42],
]
const chr22 = [
  [926, 2.12, 2.21, 2.3, 2.38, 2.44],
  [927, 3.21],
  [929, 2.12, 2.21, 2.3, 2.55, 2.75, 3.06],
  [931, 2.08, 2.17, 2.26, 2.35, 2.62, 2.7],
  [933, 2.12, 2.21, 2.3],
  [935, 2.1, 2.19, 2.28, 2.38, 2.62],
  [937, 2.12, 2.21, 2.3, 2.78, 2.88],
  [940, 2.14, 2.23, 2.32, 2.42],
  [942, 2.1, 2.19, 2.28, 2.6, 2.68, 2.75, 3.0, 3.35],
  [944, 2.1, 2.19, 2.62],
]
const chrX = [
  [960, 2.08, 2.15, 3.46, 3.52, 3.78],
  [964, 2.63, 2.38, 2.44],
  [966, 2.1, 2.18, 2.3],
  [967, 3.17],
  [969, 2.14, 2.22, 2.38, 2.46],
  [971, 2.08, 2.25, 2.34, 2.42],
  [973, 2.16, 2.52, 2.76, 2.99, 3.04, 3.1, 3.18, 3.24],
  [975, 2.12, 2.2, 2.3, 2.4, 2.52, 3.49],
  [974, 3.38],
  [977, 2.86, 3.28],
  [985, 2.1, 2.18, 2.2],
  [989, 2.66],
  [992, 2.08, 2.14, 2.26],
  [996, 2.18, 2.3, 2.36, 2.44],
  [1001, 2.1, 2.3, 2.42, 2.45],
  [1005, 2.18, 2.08, 2.58],
  [1008, 2.14, 2.42, 2.6, 2.97, 3.3, 3.38],
  [1012, 2.3, 2.45, 2.58, 2.37],
  [1017, 2.2, 2.12, 2.55],
  [1022, 2.08, 2.14, 2.55],
  [1023, 3.09, 3.2, 3.88, 2.66],
  [1027, 2.12, 2.2, 2.28, 2.36, 2.96, 3.27],
  [1028, 2.89],
  [1031, 2.1, 2.92],
]
const bottomChromosomes = [chr9, chr10, chr11, chr12, chr13, chr14, chr15, chr16, chr17, chr18, chr19, chr20, chr21, chr22, chrX]

const topNames = ['1', '2', '3', '4', '5', '6', '7', '8']
const topStarts = [113, 244, 377, 488, 593, 692, 791, 877]
const topEnds = [238, 370, 480, 584, 685, 784, 869, 954]
const bottomNames = ['9', '10', '11', '12', '13', '14', '15', '16', '17', '18', '19', '20', '21', '22', 'X']
const bottomStarts = [114, 193, 273, 351, 428, 500, 563, 625, 681, 735, 786, 829, 876, 916, 955]
const bottomEnds = [188, 266, 344, 421, 493, 556, 620, 676, 728, 779, 822, 870, 909, 948, 1031]
const topArms = [
  { x: 120, t: 'p' }, { x: 229, t: 'q' }, { x: 883, t: 'p' }, { x: 946, t: 'q' },
]
const bottomArms = [
  { x: 120, t: 'p' }, { x: 182, t: 'q' }, { x: 961, t: 'p' }, { x: 1023, t: 'q' },
]

const dotColor = '#235b88'
const fontFamily = '"Liberation Sans", Arial, sans-serif'

function toPoints(chromosomes: number[][][]) {
  return chromosomes.flatMap((rows) =>
    rows.flatMap(([x, ...values]) => values.map((v) => ({ x, y: -v }))),
  )
}

function NarrowText({ x, y, children, size = 25, bold = true, squeeze = 0.76, anchor = 'middle' }: any) {
  return (
    <text
      transform={`translate(${x},${y}) scale(${squeeze},1)`}
      textAnchor={anchor}
      fontFamily={fontFamily}
      fontSize={size}
      fontWeight={bold ? 700 : 400}
      fill="#000"
    >
      {children}
    </text>
  )
}

function YTick({ x, y, payload }: any) {
  return (
    <NarrowText x={x} y={y + 9} anchor="end" size={26} squeeze={0.74}>
      {payload.value}
    </NarrowText>
  )
}

function Dot({ cx, cy }: any) {
  return <circle cx={cx} cy={cy} r={5.3} fill={dotColor} />
}

function Row({ top, height, marginTop, domain, ticks, grid, points, names, starts, ends, arms, barTop, barBottom, labelY, armY }: any) {
  return (
    <div style={{ position: 'absolute', left: 0, top }}>
      <ScatterChart width={1050} height={height} margin={{ top: marginTop, right: 10, bottom: 0, left: 0 }}>
        <XAxis type="number" dataKey="x" domain={[101, 1040]} hide />
        <YAxis
          type="number"
          dataKey="y"
          domain={domain}
          ticks={ticks}
          width={101}
          interval={0}
          allowDataOverflow
          axisLine={{ stroke: '#000', strokeWidth: 3.5 }}
          tickLine={{ stroke: '#000', strokeWidth: 3.5 }}
          tickSize={10}
          tickMargin={8}
          tick={<YTick />}
        />
        {grid.map((g: number) => (
          <ReferenceLine key={g} y={g} stroke="#f1f1f1" strokeWidth={3} />
        ))}
        <Scatter data={points} fill={dotColor} shape={<Dot />} isAnimationActive={false} />
        {names.map((name: string, i: number) => (
          <ReferenceArea
            key={name}
            x1={starts[i]}
            x2={ends[i]}
            y1={barTop}
            y2={barBottom}
            fill="#c3e4e4"
            fillOpacity={1}
            stroke="#111"
            strokeWidth={1.5}
            zIndex={700}
          />
        ))}
        {names.map((name: string, i: number) => (
          <ReferenceDot
            key={name}
            x={(starts[i] + ends[i]) / 2}
            y={labelY}
            r={0}
            shape={(p: any) => <NarrowText x={p.cx} y={p.cy}>{name}</NarrowText>}
          />
        ))}
        {arms.map((a: any) => (
          <ReferenceDot
            key={a.x}
            x={a.x}
            y={armY}
            r={0}
            shape={(p: any) => <NarrowText x={p.cx} y={p.cy} bold={false} size={24} squeeze={0.72}>{a.t}</NarrowText>}
          />
        ))}
      </ScatterChart>
    </div>
  )
}

export default function App() {
  return (
    <div style={{ position: 'absolute', left: 0, top: 0, width: 1050, height: 1027, background: '#fff', overflow: 'hidden' }}>
      <div
        style={{
          position: 'absolute', left: 0, width: 1044, top: 5, textAlign: 'center', fontFamily, fontSize: 36,
          transform: 'scaleX(0.78)', color: '#000',
        }}
      >
        Chromosomes
      </div>
      <Row
        top={70}
        height={460}
        marginTop={40}
        domain={[-5.7023, -1.7953]}
        ticks={[-2, -3, -4, -5]}
        grid={[-2, -4]}
        points={toPoints(topChromosomes)}
        names={topNames}
        starts={topStarts}
        ends={topEnds}
        arms={topArms}
        barTop={-1.92}
        barBottom={-2.05}
        labelY={-1.81}
        armY={-1.81}
      />
      <Row
        top={510}
        height={508}
        marginTop={20}
        domain={[-6.2326, -1.693]}
        ticks={[-2, -3, -4, -5, -6]}
        grid={[-2, -4, -6]}
        points={toPoints(bottomChromosomes)}
        names={bottomNames}
        starts={bottomStarts}
        ends={bottomEnds}
        arms={bottomArms}
        barTop={-1.91}
        barBottom={-2.03}
        labelY={-1.77}
        armY={-1.82}
      />
      <div
        style={{
          position: 'absolute', left: 20, top: 630, fontFamily, fontSize: 29, whiteSpace: 'nowrap', color: '#000',
          transform: 'translate(-50%,-50%) rotate(-90deg) scaleX(1.36)',
        }}
      >
        Log<sub style={{ fontSize: 19 }}>10</sub>(p-value)
      </div>
      <svg style={{ position: 'absolute', left: 0, top: 0 }} width={1050} height={1027}>
        <polygon points="279,872 286,866.5 286,869 306,869 306,875 286,875 286,877.5" fill="#e8101a" stroke="#600" strokeWidth={1} />
        <NarrowText x={312} y={881} anchor="start" size={24} squeeze={0.74}>FGFR2</NarrowText>
      </svg>
    </div>
  )
}
